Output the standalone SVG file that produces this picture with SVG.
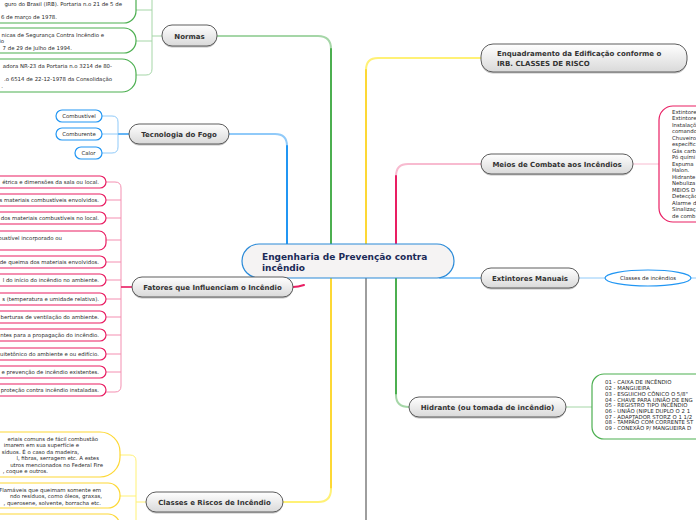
<svg xmlns="http://www.w3.org/2000/svg" width="696" height="520" viewBox="0 0 696 520">
<defs>
<linearGradient id="ng" x1="0" y1="0" x2="0" y2="1">
<stop offset="0" stop-color="#ffffff"/>
<stop offset="1" stop-color="#d9d9d9"/>
</linearGradient>
</defs>
<style>
.node rect.b{fill:url(#ng);stroke:#5c5c5c;stroke-width:1}
.node rect.s{fill:#9a9a9a;opacity:0.6}
.nt{font-family:"DejaVu Sans",Verdana,sans-serif;font-weight:bold;font-size:7px;fill:#333}
.ct{font-family:"DejaVu Sans",Verdana,sans-serif;font-weight:bold;font-size:9px;fill:#1b2a57}
.t{font-family:"DejaVu Sans",Verdana,sans-serif;font-size:5.4px;fill:#2a2a2a}
.gbox{fill:#fff;stroke:#4caf50;stroke-width:1.2}
.bbox{fill:#fff;stroke:#2196f3;stroke-width:1.2}
.pbox{fill:#fff;stroke:#e91e63;stroke-width:1.2}
.ybox{fill:#fff;stroke:#fdd835;stroke-width:1.2}
.c{fill:none;stroke-width:2;stroke-linecap:round}
.cl{fill:none;stroke-width:1;}
</style>
<g id="connectors">
<path class="c" d="M217,36 H318 Q331,36 331,49" stroke="#a5d6a7"/>
<path class="c" d="M331,49 V244" stroke="#4caf50"/>
<path class="c" d="M229,134 H275 Q287,134 287,146" stroke="#90caf9"/>
<path class="c" d="M287,146 V244" stroke="#2196f3"/>
<path class="c" d="M481,58 H378 Q366,58 366,70" stroke="#fff176"/>
<path class="c" d="M366,70 V244" stroke="#fdd835"/>
<path class="c" d="M481,164 H408 Q396,164 396,176" stroke="#f8bbd0"/>
<path class="c" d="M396,176 V244" stroke="#e91e63"/>
<path class="c" d="M440,278 H481" stroke="#90caf9"/>
<path class="c" d="M396,278 V395" stroke="#4caf50"/>
<path class="c" d="M396,395 Q396,407 409,407" stroke="#a5d6a7"/>
<path class="c" d="M331,278 V489" stroke="#fdd835"/>
<path class="c" d="M331,489 Q331,502 318,502 H283" stroke="#fff176"/>
<path class="c" d="M366,278 V520" stroke="#9e9e9e"/>
<path class="c" d="M293,287 Q298,287 304,285" stroke="#e91e63"/>
<path class="cl" stroke="#a5d6a7" d="M162,36 H152 M152,0 V69 Q152,75 146,75 H136 M136,10 H152 M136,41 H152"/>
<path class="cl" stroke="#90caf9" d="M102,116 H112 Q118,116 118,122 V147 Q118,153 112,153 H102 M102,134 H129"/>
<path d="M118,134 H129" stroke="#64b5f6" stroke-width="2"/>
<path class="cl" stroke="#f48fb1" d="M132,287 H121 M121,188 Q121,182 115,182 H106 M121,188 V386 Q121,392 115,392 H106 M106,200 H121 M106,218 H121 M106,240 H121 M106,262 H121 M106,280 H121 M106,299 H121 M106,317 H121 M106,335 H121 M106,354 H121 M106,372 H121"/>
<path d="M121,287 H132" stroke="#e91e63" stroke-width="1.5"/>
<path class="cl" stroke="#fff176" d="M146,502 H136 M120,455 H130 Q136,455 136,461 V520 M120,496 H136"/>
<path class="cl" stroke="#f8bbd0" stroke-width="1.5" d="M633,164 H659"/>
<path class="cl" stroke="#90caf9" stroke-width="1.5" d="M579,278 H605 M691,278 H696"/>
<path class="cl" stroke="#a5d6a7" stroke-width="1.5" d="M566,407 H592"/>
</g>

<g id="center">
<rect x="242" y="244" width="212" height="34" rx="17" fill="#f5f3f3" stroke="#2a8ad8" stroke-width="1.2"/>
<text class="ct" x="262" y="259.5">Engenharia de Prevenção contra</text>
<text class="ct" x="262" y="271">incêndio</text>
</g>

<g id="normas" class="node">
<rect class="s" x="162" y="26.5" width="55" height="21" rx="10"/>
<rect class="b" x="162" y="25" width="55" height="21" rx="10"/>
<text class="nt" x="189.5" y="38.5" text-anchor="middle">Normas</text>
</g>
<g id="normas-1"><rect class="gbox" x="-20" y="-12" width="156" height="35" rx="12"/>
<text class="t" x="122" y="6" text-anchor="end">guro do Brasil (IRB). Portaria n.o 21 de 5 de</text>
<text class="t" x="57" y="18.5" text-anchor="end">6 de março de 1978.</text></g>
<g id="normas-2"><rect class="gbox" x="-20" y="28" width="156" height="25" rx="12"/>
<text class="t" x="104" y="36.5" text-anchor="end">nicas de Segurança Contra Incêndio e</text>
<text class="t" x="4" y="43" text-anchor="end">io</text>
<text class="t" x="72" y="49.5" text-anchor="end">7 de 29 de Julho de 1994.</text></g>
<g id="normas-3"><rect class="gbox" x="-20" y="59" width="156" height="33" rx="14"/>
<text class="t" x="112" y="67.5" text-anchor="end">adora NR-23 da Portaria n.o 3214 de 80-</text>
<text class="t" x="112" y="81" text-anchor="end">.o 6514 de 22-12-1978 da Consolidação</text>
<text class="t" x="3" y="87.5" text-anchor="end">.</text></g>

<g id="tecnologia" class="node">
<rect class="s" x="129" y="125.5" width="100" height="20" rx="10"/>
<rect class="b" x="129" y="124" width="100" height="20" rx="10"/>
<text class="nt" x="179" y="136.7" text-anchor="middle">Tecnologia do Fogo</text>
</g>
<g id="combustivel"><rect class="bbox" x="56" y="110" width="46" height="12" rx="6"/><text class="t" x="79" y="117.8" text-anchor="middle">Combustível</text></g>
<g id="comburente"><rect class="bbox" x="56" y="128" width="46" height="12" rx="6"/><text class="t" x="79" y="135.8" text-anchor="middle">Comburente</text></g>
<g id="calor"><rect class="bbox" x="75" y="147" width="27" height="12" rx="6"/><text class="t" x="88.5" y="154.8" text-anchor="middle">Calor</text></g>

<g id="fatores" class="node">
<rect class="s" x="132" y="278.5" width="161" height="20" rx="10"/>
<rect class="b" x="132" y="277" width="161" height="20" rx="10"/>
<text class="nt" x="212.5" y="289.7" text-anchor="middle">Fatores que Influenciam o Incêndio</text>
</g>
<g id="f1"><rect class="pbox" x="-20" y="176" width="126" height="12" rx="6"/><text class="t" x="99" y="183.8" text-anchor="end">étrica e dimensões da sala ou local.</text></g>
<g id="f2"><rect class="pbox" x="-20" y="194" width="126" height="12" rx="6"/><text class="t" x="99" y="201.8" text-anchor="end">s materiais combustíveis envolvidos.</text></g>
<g id="f3"><rect class="pbox" x="-20" y="212" width="126" height="12" rx="6"/><text class="t" x="99" y="219.8" text-anchor="end">dos materiais combustíveis no local.</text></g>
<g id="f4"><rect class="pbox" x="-20" y="231" width="126" height="19" rx="7"/><text class="t" x="62" y="239.5" text-anchor="end">bustível incorporado ou</text></g>
<g id="f5"><rect class="pbox" x="-20" y="256" width="126" height="12" rx="6"/><text class="t" x="99" y="263.8" text-anchor="end">de queima dos materiais envolvidos.</text></g>
<g id="f6"><rect class="pbox" x="-20" y="274" width="126" height="12" rx="6"/><text class="t" x="99" y="281.8" text-anchor="end">l do início do incêndio no ambiente.</text></g>
<g id="f7"><rect class="pbox" x="-20" y="293" width="126" height="12" rx="6"/><text class="t" x="99" y="300.8" text-anchor="end">s (temperatura e umidade relativa).</text></g>
<g id="f8"><rect class="pbox" x="-20" y="311" width="126" height="12" rx="6"/><text class="t" x="99" y="318.8" text-anchor="end">berturas de ventilação do ambiente.</text></g>
<g id="f9"><rect class="pbox" x="-20" y="329" width="126" height="12" rx="6"/><text class="t" x="99" y="336.8" text-anchor="end">ntes para a propagação do incêndio.</text></g>
<g id="f10"><rect class="pbox" x="-20" y="348" width="126" height="12" rx="6"/><text class="t" x="99" y="355.8" text-anchor="end">uitetônico do ambiente e ou edifício.</text></g>
<g id="f11"><rect class="pbox" x="-20" y="366" width="126" height="12" rx="6"/><text class="t" x="99" y="373.8" text-anchor="end">e prevenção de incêndio existentes.</text></g>
<g id="f12"><rect class="pbox" x="-20" y="384" width="126" height="12" rx="6"/><text class="t" x="99" y="391.8" text-anchor="end">proteção contra incêndio instaladas.</text></g>

<g id="classes" class="node">
<rect class="s" x="146" y="493.5" width="137" height="20" rx="10"/>
<rect class="b" x="146" y="492" width="137" height="20" rx="10"/>
<text class="nt" x="214.5" y="504.7" text-anchor="middle">Classes e Riscos de Incêndio</text>
</g>
<g id="c1"><rect class="ybox" x="-30" y="432" width="150" height="45" rx="20"/>
<text class="t" x="98" y="440.5" text-anchor="end">eriais comuns de fácil combustão</text>
<text class="t" x="79" y="447" text-anchor="end">imarem em sua superfície e</text>
<text class="t" x="79" y="453.5" text-anchor="end">síduos. É o caso da madeira,</text>
<text class="t" x="99" y="460" text-anchor="end">l, fibras, serragem etc. A estes</text>
<text class="t" x="103" y="466.5" text-anchor="end">utros mencionados no Federal Fire</text>
<text class="t" x="48" y="473" text-anchor="end">, coque e outros.</text></g>
<g id="c2"><rect class="ybox" x="-30" y="483" width="150" height="25" rx="12"/>
<text class="t" x="101" y="491.5" text-anchor="end">Flamáveis que queimam somente em</text>
<text class="t" x="102" y="498" text-anchor="end">ndo resíduos, como óleos, graxas,</text>
<text class="t" x="101" y="504.5" text-anchor="end">, querosene, solvente, borracha etc.</text></g>
<g id="c3"><rect class="ybox" x="-30" y="514" width="150" height="30" rx="12"/></g>

<g id="enquadramento" class="node">
<rect class="s" x="481" y="45.5" width="206" height="28" rx="12"/>
<rect class="b" x="481" y="44" width="206" height="28" rx="12"/>
<text class="nt" x="497" y="56">Enquadramento da Edificação conforme o</text>
<text class="nt" x="497" y="65.5">IRB. CLASSES DE RISCO</text>
</g>

<g id="meios" class="node">
<rect class="s" x="481" y="155.5" width="152" height="20" rx="10"/>
<rect class="b" x="481" y="154" width="152" height="20" rx="10"/>
<text class="nt" x="557" y="166.7" text-anchor="middle">Meios de Combate aos Incêndios</text>
</g>
<g id="meios-list"><rect class="pbox" x="659" y="106" width="60" height="116" rx="14"/>
<text class="t" x="672" y="113.5">Extintores</text>
<text class="t" x="672" y="120">Extintores</text>
<text class="t" x="672" y="126.5">Instalaçõ</text>
<text class="t" x="672" y="133">comando</text>
<text class="t" x="672" y="139.5">Chuveiro</text>
<text class="t" x="672" y="146">específic</text>
<text class="t" x="672" y="152.5">Gás carb</text>
<text class="t" x="672" y="159">Pó quími</text>
<text class="t" x="672" y="165.5">Espuma</text>
<text class="t" x="672" y="172">Halon.</text>
<text class="t" x="672" y="178.5">Hidrante</text>
<text class="t" x="672" y="185">Nebuliza</text>
<text class="t" x="672" y="191.5">MEIOS D</text>
<text class="t" x="672" y="198">Detecção</text>
<text class="t" x="672" y="204.5">Alarme d</text>
<text class="t" x="672" y="211">Sinalizaç</text>
<text class="t" x="672" y="217.5">de comb</text></g>

<g id="extintores" class="node">
<rect class="s" x="481" y="269.5" width="98" height="20" rx="10"/>
<rect class="b" x="481" y="268" width="98" height="20" rx="10"/>
<text class="nt" x="530" y="280.7" text-anchor="middle">Extintores Manuais</text>
</g>
<g id="classes-incendios"><ellipse cx="648" cy="278" rx="43" ry="8" fill="#fff" stroke="#2196f3" stroke-width="1.2"/>
<text class="t" x="648" y="279.8" text-anchor="middle">Classes de incêndios</text></g>

<g id="hidrante" class="node">
<rect class="s" x="409" y="398.5" width="157" height="20" rx="10"/>
<rect class="b" x="409" y="397" width="157" height="20" rx="10"/>
<text class="nt" x="487.5" y="409.7" text-anchor="middle">Hidrante (ou tomada de incêndio)</text>
</g>
<g id="hidrante-list"><rect class="gbox" x="592" y="374" width="130" height="65" rx="12"/>
<text class="t" x="605" y="383.5">01 - CAIXA DE INCÊNDIO</text>
<text class="t" x="605" y="389.5">02 - MANGUEIRA</text>
<text class="t" x="605" y="395.5">03 - ESGUICHO CÔNICO O 5/8"</text>
<text class="t" x="605" y="401.5">04 - CHAVE PARA UNIÃO DE ENG</text>
<text class="t" x="605" y="407">05 - REGISTRO TIPO INCÊNDIO</text>
<text class="t" x="605" y="413">06 - UNIÃO (NIPLE DUPLO O 2 1</text>
<text class="t" x="605" y="418.5">07 - ADAPTADOR STORZ O 1 1/2</text>
<text class="t" x="605" y="424">08 - TAMPÃO COM CORRENTE ST</text>
<text class="t" x="605" y="430">09 - CONEXÃO P/ MANGUEIRA D</text></g>
</svg>
